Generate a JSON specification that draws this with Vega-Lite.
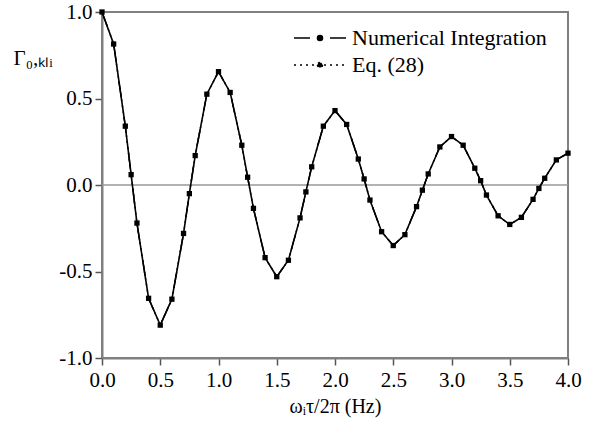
{
  "$schema": "https://vega.github.io/schema/vega-lite/v6.json",
  "autosize": "none",
  "width": 466,
  "height": 346,
  "padding": {"left": 102, "top": 12, "right": 25, "bottom": 65},
  "background": "white",
  "config": {
    "view": {"stroke": "#808080", "strokeWidth": 2},
    "font": "Liberation Serif",
    "axis": {"labelFont": "Liberation Serif", "titleFont": "Liberation Serif", "labelColor": "black", "titleColor": "black", "grid": false, "domainColor": "#808080", "domainWidth": 2, "tickColor": "#555555", "tickWidth": 1.5, "labelFontSize": 21, "titleFontSize": 20, "titleFontWeight": "normal", "labelFlush": false}
  },
  "datasets": {
    "curve": [
      {"x": 0.0, "y": 1.0, "series": "Numerical Integration"},
      {"x": 0.1, "y": 0.815, "series": "Numerical Integration"},
      {"x": 0.2, "y": 0.34, "series": "Numerical Integration"},
      {"x": 0.25, "y": 0.06, "series": "Numerical Integration"},
      {"x": 0.3, "y": -0.22, "series": "Numerical Integration"},
      {"x": 0.4, "y": -0.655, "series": "Numerical Integration"},
      {"x": 0.5, "y": -0.81, "series": "Numerical Integration"},
      {"x": 0.6, "y": -0.66, "series": "Numerical Integration"},
      {"x": 0.7, "y": -0.28, "series": "Numerical Integration"},
      {"x": 0.75, "y": -0.05, "series": "Numerical Integration"},
      {"x": 0.8, "y": 0.17, "series": "Numerical Integration"},
      {"x": 0.9, "y": 0.525, "series": "Numerical Integration"},
      {"x": 1.0, "y": 0.655, "series": "Numerical Integration"},
      {"x": 1.1, "y": 0.535, "series": "Numerical Integration"},
      {"x": 1.2, "y": 0.23, "series": "Numerical Integration"},
      {"x": 1.25, "y": 0.045, "series": "Numerical Integration"},
      {"x": 1.3, "y": -0.135, "series": "Numerical Integration"},
      {"x": 1.4, "y": -0.42, "series": "Numerical Integration"},
      {"x": 1.5, "y": -0.53, "series": "Numerical Integration"},
      {"x": 1.6, "y": -0.435, "series": "Numerical Integration"},
      {"x": 1.7, "y": -0.19, "series": "Numerical Integration"},
      {"x": 1.75, "y": -0.04, "series": "Numerical Integration"},
      {"x": 1.8, "y": 0.105, "series": "Numerical Integration"},
      {"x": 1.9, "y": 0.34, "series": "Numerical Integration"},
      {"x": 2.0, "y": 0.43, "series": "Numerical Integration"},
      {"x": 2.1, "y": 0.35, "series": "Numerical Integration"},
      {"x": 2.2, "y": 0.15, "series": "Numerical Integration"},
      {"x": 2.25, "y": 0.035, "series": "Numerical Integration"},
      {"x": 2.3, "y": -0.087, "series": "Numerical Integration"},
      {"x": 2.4, "y": -0.27, "series": "Numerical Integration"},
      {"x": 2.5, "y": -0.35, "series": "Numerical Integration"},
      {"x": 2.6, "y": -0.287, "series": "Numerical Integration"},
      {"x": 2.7, "y": -0.125, "series": "Numerical Integration"},
      {"x": 2.75, "y": -0.03, "series": "Numerical Integration"},
      {"x": 2.8, "y": 0.064, "series": "Numerical Integration"},
      {"x": 2.9, "y": 0.22, "series": "Numerical Integration"},
      {"x": 3.0, "y": 0.28, "series": "Numerical Integration"},
      {"x": 3.1, "y": 0.23, "series": "Numerical Integration"},
      {"x": 3.2, "y": 0.097, "series": "Numerical Integration"},
      {"x": 3.25, "y": 0.025, "series": "Numerical Integration"},
      {"x": 3.3, "y": -0.058, "series": "Numerical Integration"},
      {"x": 3.4, "y": -0.178, "series": "Numerical Integration"},
      {"x": 3.5, "y": -0.228, "series": "Numerical Integration"},
      {"x": 3.6, "y": -0.187, "series": "Numerical Integration"},
      {"x": 3.7, "y": -0.083, "series": "Numerical Integration"},
      {"x": 3.75, "y": -0.02, "series": "Numerical Integration"},
      {"x": 3.8, "y": 0.039, "series": "Numerical Integration"},
      {"x": 3.9, "y": 0.145, "series": "Numerical Integration"},
      {"x": 4.0, "y": 0.184, "series": "Numerical Integration"},
      {"x": 0.0, "y": 1.0, "series": "Eq. (28)"},
      {"x": 0.1, "y": 0.815, "series": "Eq. (28)"},
      {"x": 0.2, "y": 0.34, "series": "Eq. (28)"},
      {"x": 0.25, "y": 0.06, "series": "Eq. (28)"},
      {"x": 0.3, "y": -0.22, "series": "Eq. (28)"},
      {"x": 0.4, "y": -0.655, "series": "Eq. (28)"},
      {"x": 0.5, "y": -0.81, "series": "Eq. (28)"},
      {"x": 0.6, "y": -0.66, "series": "Eq. (28)"},
      {"x": 0.7, "y": -0.28, "series": "Eq. (28)"},
      {"x": 0.75, "y": -0.05, "series": "Eq. (28)"},
      {"x": 0.8, "y": 0.17, "series": "Eq. (28)"},
      {"x": 0.9, "y": 0.525, "series": "Eq. (28)"},
      {"x": 1.0, "y": 0.655, "series": "Eq. (28)"},
      {"x": 1.1, "y": 0.535, "series": "Eq. (28)"},
      {"x": 1.2, "y": 0.23, "series": "Eq. (28)"},
      {"x": 1.25, "y": 0.045, "series": "Eq. (28)"},
      {"x": 1.3, "y": -0.135, "series": "Eq. (28)"},
      {"x": 1.4, "y": -0.42, "series": "Eq. (28)"},
      {"x": 1.5, "y": -0.53, "series": "Eq. (28)"},
      {"x": 1.6, "y": -0.435, "series": "Eq. (28)"},
      {"x": 1.7, "y": -0.19, "series": "Eq. (28)"},
      {"x": 1.75, "y": -0.04, "series": "Eq. (28)"},
      {"x": 1.8, "y": 0.105, "series": "Eq. (28)"},
      {"x": 1.9, "y": 0.34, "series": "Eq. (28)"},
      {"x": 2.0, "y": 0.43, "series": "Eq. (28)"},
      {"x": 2.1, "y": 0.35, "series": "Eq. (28)"},
      {"x": 2.2, "y": 0.15, "series": "Eq. (28)"},
      {"x": 2.25, "y": 0.035, "series": "Eq. (28)"},
      {"x": 2.3, "y": -0.087, "series": "Eq. (28)"},
      {"x": 2.4, "y": -0.27, "series": "Eq. (28)"},
      {"x": 2.5, "y": -0.35, "series": "Eq. (28)"},
      {"x": 2.6, "y": -0.287, "series": "Eq. (28)"},
      {"x": 2.7, "y": -0.125, "series": "Eq. (28)"},
      {"x": 2.75, "y": -0.03, "series": "Eq. (28)"},
      {"x": 2.8, "y": 0.064, "series": "Eq. (28)"},
      {"x": 2.9, "y": 0.22, "series": "Eq. (28)"},
      {"x": 3.0, "y": 0.28, "series": "Eq. (28)"},
      {"x": 3.1, "y": 0.23, "series": "Eq. (28)"},
      {"x": 3.2, "y": 0.097, "series": "Eq. (28)"},
      {"x": 3.25, "y": 0.025, "series": "Eq. (28)"},
      {"x": 3.3, "y": -0.058, "series": "Eq. (28)"},
      {"x": 3.4, "y": -0.178, "series": "Eq. (28)"},
      {"x": 3.5, "y": -0.228, "series": "Eq. (28)"},
      {"x": 3.6, "y": -0.187, "series": "Eq. (28)"},
      {"x": 3.7, "y": -0.083, "series": "Eq. (28)"},
      {"x": 3.75, "y": -0.02, "series": "Eq. (28)"},
      {"x": 3.8, "y": 0.039, "series": "Eq. (28)"},
      {"x": 3.9, "y": 0.145, "series": "Eq. (28)"},
      {"x": 4.0, "y": 0.184, "series": "Eq. (28)"}
    ]
  },
  "layer": [
    {
      "data": {"values": [{"zero": 0}]},
      "mark": {"type": "rule", "color": "#999999", "strokeWidth": 1.5},
      "encoding": {"y": {"field": "zero", "type": "quantitative", "scale": {"domain": [-1, 1]}}}
    },
    {
      "data": {"name": "curve"},
      "transform": [{"filter": "datum.series === 'Numerical Integration'"}],
      "mark": {"type": "line", "color": "black", "strokeWidth": 1.6},
      "encoding": {
        "x": {"field": "x", "type": "quantitative"},
        "y": {"field": "y", "type": "quantitative"}
      }
    },
    {
      "data": {"name": "curve"},
      "mark": {"type": "line", "color": "black", "strokeWidth": 1.4},
      "encoding": {
        "x": {"field": "x", "type": "quantitative"},
        "y": {"field": "y", "type": "quantitative"},
        "strokeDash": {
          "field": "series", "type": "nominal",
          "scale": {"domain": ["Numerical Integration", "Eq. (28)"], "range": [[16, 20], [2, 4]]},
          "legend": {
            "title": null, "orient": "none", "legendX": 204, "legendY": 12,
            "symbolType": "M-2,0H2M-0.2,0A0.2,0.2 0 1,0 0.2,0A0.2,0.2 0 1,0 -0.2,0",
            "symbolSize": 676, "symbolFillColor": "black", "symbolStrokeColor": "black", "symbolStrokeWidth": 1.4,
            "labelFont": "Liberation Serif", "labelFontSize": 22, "labelColor": "black", "labelOffset": 18, "labelLimit": 400,
            "rowPadding": 2
          }
        }
      }
    },
    {
      "data": {"name": "curve"},
      "transform": [{"filter": "datum.series === 'Numerical Integration'"}],
      "mark": {"type": "point", "shape": "square", "filled": true, "color": "black", "size": 28, "opacity": 1},
      "encoding": {
        "x": {
          "field": "x", "type": "quantitative",
          "scale": {"domain": [0, 4], "nice": false, "zero": false},
          "axis": {"values": [0, 0.5, 1, 1.5, 2, 2.5, 3, 3.5, 4], "format": ".1f", "labelFont": "Liberation Serif", "titleFont": "Liberation Serif", "labelFlush": false, "tickSize": 7, "labelPadding": 4, "title": "ωᵢτ/2π (Hz)", "titlePadding": 6}
        },
        "y": {
          "field": "y", "type": "quantitative",
          "scale": {"domain": [-1, 1], "nice": false},
          "axis": {"values": [-1, -0.5, 0, 0.5, 1], "labelExpr": "replace(format(datum.value, '.1f'), '−', '-')", "labelFont": "Liberation Serif", "titleFont": "Liberation Serif", "labelFlush": false, "tickSize": 7, "labelPadding": 3, "title": "Γ₀,ₖₗᵢ", "titleAngle": 0, "titleAlign": "left", "titleBaseline": "middle", "titleX": -89, "titleY": 46, "titleFontSize": 21}
        }
      }
    }
  ]
}
